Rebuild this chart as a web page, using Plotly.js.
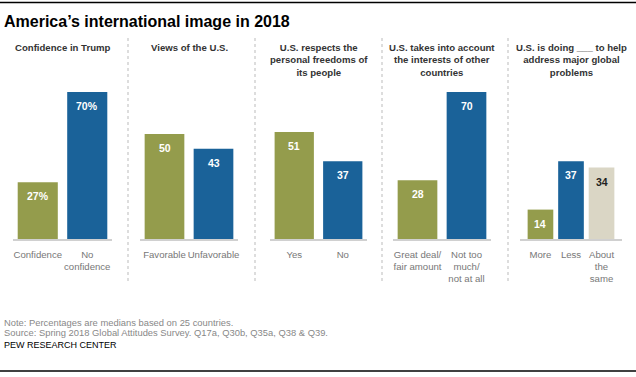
<!DOCTYPE html>
<html>
<head>
<meta charset="utf-8">
<script src="https://cdn.plot.ly/plotly-3.0.1.min.js"></script>
<style>html,body{margin:0;padding:0;background:#fff;}#chart{width:636px;height:377px;}</style>
</head>
<body>
<div id="chart"></div>
<script>
// ---- data ----
const panelTitles = [
  "Confidence in Trump",
  "Views of the U.S.",
  "U.S. respects the<br>personal freedoms of<br>its people",
  "U.S. takes into account<br>the interests of other<br>countries",
  "U.S. is doing ___ to help<br>address major global<br>problems"
];
const cats1 = ["Confidence", "No<br>confidence"];
const vals1 = [27, 70];
const cats2 = ["Favorable", "Unfavorable"];
const vals2 = [50, 43];
const cats3 = ["Yes", "No"];
const vals3 = [51, 37];
const cats4 = ["Great deal/<br>fair amount", "Not too<br>much/<br>not at all"];
const vals4 = [28, 70];
const cats5 = ["More", "Less", "About<br>the<br>same"];
const vals5 = [14, 37, 34];
const labelSuffix1 = "%";

const GREEN = "#949c4c", BLUE = "#1a6299", BEIGE = "#dad6c5";
const panels = [
  {cats: cats1, vals: vals1, colors: [GREEN, BLUE], suffix: labelSuffix1, dom: [13, 112], bw: 0.81, pad: 0.5},
  {cats: cats2, vals: vals2, colors: [GREEN, BLUE], suffix: "", dom: [140, 238], bw: 0.81, pad: 0.5},
  {cats: cats3, vals: vals3, colors: [GREEN, BLUE], suffix: "", dom: [270, 367], bw: 0.81, pad: 0.5},
  {cats: cats4, vals: vals4, colors: [GREEN, BLUE], suffix: "", dom: [393, 491], bw: 0.81, pad: 0.5},
  {cats: cats5, vals: vals5, colors: [GREEN, BLUE, BEIGE], suffix: "", dom: [520, 622], bw: 0.84, pad: 0.67}
];

const W = 636, H = 377, TOP = 71, BASE = 239;
const font = "Liberation Sans, Arial, sans-serif";
const data = [];
const layout = {
  width: W, height: H,
  margin: {l: 0, r: 0, t: TOP, b: H - BASE, pad: 0},
  paper_bgcolor: "#fff", plot_bgcolor: "rgba(0,0,0,0)",
  showlegend: false,
  font: {family: font},
  annotations: [], shapes: [],
  yaxis: {range: [0, 80], visible: false, fixedrange: true}
};
const py2paper = py => (BASE - py) / (BASE - TOP);

panels.forEach((p, i) => {
  const xa = i === 0 ? "x" : "x" + (i + 1);
  const axName = i === 0 ? "xaxis" : "xaxis" + (i + 1);
  const xs = p.cats.map((c, j) => j);
  data.push({
    type: "bar", x: xs, y: p.vals, xaxis: xa, yaxis: "y",
    width: p.bw, marker: {color: p.colors}, hoverinfo: "skip"
  });
  layout[axName] = {
    domain: [p.dom[0] / W, p.dom[1] / W],
    range: [-p.pad, p.cats.length - 1 + p.pad],
    anchor: "y", tickmode: "array", tickvals: xs, ticktext: p.cats,
    tickangle: 0, automargin: false,
    ticks: "", ticklen: 0, ticklabelstandoff: 5, showgrid: false, zeroline: false,
    showline: true, linecolor: "#d0d0d0", linewidth: 2,
    tickfont: {family: font, size: 9.6, color: "#777"}, fixedrange: true
  };
  p.vals.forEach((v, j) => {
    layout.annotations.push({
      xref: xa, yref: "y", x: j, y: v, yanchor: "top", yshift: -6,
      text: "<b>" + v + (p.suffix) + "</b>", showarrow: false,
      font: {family: font, size: 10.5, color: p.colors[j] === BEIGE ? "#222" : "#fff"}
    });
  });
  layout.annotations.push({
    xref: "paper", yref: "paper",
    x: ((p.dom[0] + p.dom[1]) / 2) / W, y: py2paper(40), yanchor: "top", xanchor: "center",
    text: "<b>" + panelTitles[i] + "</b>", showarrow: false, align: "center",
    font: {family: font, size: 9.6, color: "#333"}
  });
});

[128, 255, 382, 508].forEach(px => {
  layout.shapes.push({type: "line", xref: "paper", yref: "paper",
    x0: px / W, x1: px / W, y0: py2paper(38), y1: py2paper(284),
    line: {color: "#bbb", width: 1, dash: "dot"}});
});
// top and bottom rules
layout.shapes.push({type: "line", xref: "paper", yref: "paper", x0: 0, x1: 1,
  y0: py2paper(2.5), y1: py2paper(2.5), line: {color: "#000", width: 1.5}});
layout.shapes.push({type: "line", xref: "paper", yref: "paper", x0: 0, x1: 1,
  y0: py2paper(371), y1: py2paper(371), line: {color: "#000", width: 1.5}});

layout.annotations.push({xref: "paper", yref: "paper", x: 2 / W, y: py2paper(11),
  xanchor: "left", yanchor: "top", showarrow: false,
  text: "<b>America’s international image in 2018</b>",
  font: {family: font, size: 16, color: "#000"}});
layout.annotations.push({xref: "paper", yref: "paper", x: 2 / W, y: py2paper(322),
  xanchor: "left", yanchor: "middle", showarrow: false,
  text: "Note: Percentages are medians based on 25 countries.",
  font: {family: font, size: 9.4, color: "#888"}});
layout.annotations.push({xref: "paper", yref: "paper", x: 2 / W, y: py2paper(332.5),
  xanchor: "left", yanchor: "middle", showarrow: false,
  text: "Source: Spring 2018 Global Attitudes Survey. Q17a, Q30b, Q35a, Q38 &amp; Q39.",
  font: {family: font, size: 9.4, color: "#888"}});
layout.annotations.push({xref: "paper", yref: "paper", x: 2 / W, y: py2paper(345),
  xanchor: "left", yanchor: "middle", showarrow: false,
  text: "PEW RESEARCH CENTER",
  font: {family: font, size: 9, color: "#000"}});

Plotly.newPlot("chart", data, layout, {displayModeBar: false, staticPlot: true});
</script>
</body>
</html>
